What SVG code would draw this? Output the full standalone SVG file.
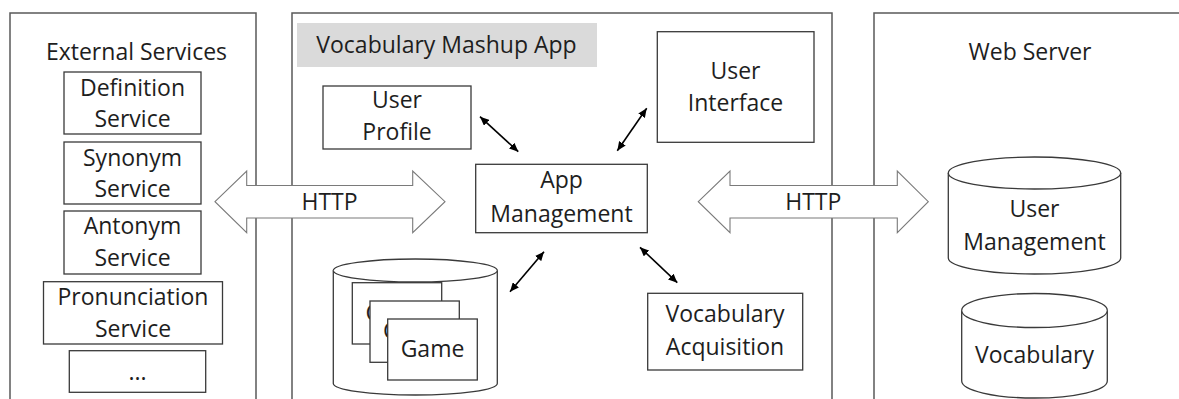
<svg xmlns="http://www.w3.org/2000/svg" width="1179" height="399" viewBox="0 0 1179 399">
<style>
text{font-family:"Open Sans","Liberation Sans",sans-serif;font-size:23px;fill:#1e1e1e;text-anchor:middle}
text.s{text-anchor:start}
.panel{fill:none;stroke:#5a5a5a;stroke-width:1.5}
.box{fill:#fff;stroke:#3a3a3a;stroke-width:1.3}
.http{fill:#fff;stroke:#7a7a7a;stroke-width:1.1}
.link{fill:none;stroke:#000;stroke-width:1.6}
</style>
<defs>
<marker id="ah" viewBox="0 0 9 8" refX="9" refY="4" markerWidth="9" markerHeight="8" markerUnits="userSpaceOnUse" orient="auto-start-reverse">
<path d="M0,0 L9,4 L0,8 z" fill="#000"/>
</marker>
</defs>
<rect width="1179" height="399" fill="#fff"/>

<g id="external-services">
<path class="panel" d="M10,402 V13 H256 V402"/>
<text x="136.5" y="60">External Services</text>
</g>
<g id="vocabulary-mashup-app">
<path class="panel" d="M292,402 V13 H832 V402"/>
<rect x="297" y="23" width="300" height="44" fill="#dadada"/>
<text x="446.5" y="53.3">Vocabulary Mashup App</text>
</g>
<g id="web-server">
<path class="panel" d="M874,402 V13 H1190"/>
<text x="1030" y="60">Web Server</text>
</g>

<g id="connectors">
<polygon class="http" points="215,201.7 246.7,171 246.7,185.5 412.7,185.5 412.7,171 445,201.7 412.7,232.7 412.7,218 246.7,218 246.7,232.7"/>
<text x="329.5" y="210">HTTP</text>
<polygon class="http" points="698.3,201.7 730,171 730,185.5 897.3,185.5 897.3,171 928.3,201.7 897.3,232.7 897.3,218 730,218 730,232.7"/>
<text x="813.3" y="210">HTTP</text>
<path class="link" d="M480,116.7 L518.3,151.7" marker-start="url(#ah)" marker-end="url(#ah)"/>
<path class="link" d="M646.7,108.3 L617.3,150.7" marker-start="url(#ah)" marker-end="url(#ah)"/>
<path class="link" d="M544,251.7 L510,291.7" marker-start="url(#ah)" marker-end="url(#ah)"/>
<path class="link" d="M640,247.3 L677.3,282.7" marker-start="url(#ah)" marker-end="url(#ah)"/>
</g>

<g id="definition-service">
<rect class="box" x="64" y="72" width="137" height="62"/>
<text x="132.5" y="95.5">Definition</text>
<text x="132.5" y="127">Service</text>
</g>
<g id="synonym-service">
<rect class="box" x="64" y="142" width="137" height="62"/>
<text x="132.5" y="165.5">Synonym</text>
<text x="132.5" y="197">Service</text>
</g>
<g id="antonym-service">
<rect class="box" x="64" y="211" width="137" height="63"/>
<text x="132.5" y="234.3">Antonym</text>
<text x="132.5" y="265.7">Service</text>
</g>
<g id="pronunciation-service">
<rect class="box" x="43.5" y="281.7" width="179" height="62.3"/>
<text x="133" y="305">Pronunciation</text>
<text x="133" y="336.7">Service</text>
</g>
<g id="more-services">
<rect class="box" x="69.3" y="350.7" width="136.4" height="41.6"/>
<text x="137.5" y="380">...</text>
</g>

<g id="user-profile">
<rect class="box" x="323" y="86" width="148" height="63"/>
<text x="397" y="108">User</text>
<text x="397" y="140">Profile</text>
</g>
<g id="user-interface">
<rect class="box" x="657.3" y="31.7" width="156.7" height="110.6"/>
<text x="735.5" y="79">User</text>
<text x="735.5" y="111">Interface</text>
</g>
<g id="app-management">
<rect class="box" x="475.7" y="164.3" width="171.6" height="68.4"/>
<text x="561.5" y="188.3">App</text>
<text x="561.5" y="221.7">Management</text>
</g>
<g id="vocabulary-acquisition">
<rect class="box" x="647.7" y="293.3" width="155" height="76.7"/>
<text x="725" y="321.7">Vocabulary</text>
<text x="725" y="355">Acquisition</text>
</g>
<g id="games">
<path class="box" d="M333.3,270.5 A82,11.5 0 0 1 497.3,270.5 V383.5 A82,11.5 0 0 1 333.3,383.5 Z"/>
<path class="box" fill="none" d="M333.3,270.5 A82,11.5 0 0 0 497.3,270.5"/>
<rect class="box" x="352.3" y="282.7" width="89.4" height="61.3"/>
<text class="s" x="365.5" y="320.7">G</text>
<rect class="box" x="370" y="301" width="89.3" height="61.3"/>
<text class="s" x="383.1" y="338.7">G</text>
<rect class="box" x="387.7" y="319" width="89.6" height="61"/>
<text x="432.5" y="356.7">Game</text>
</g>

<g id="user-management">
<path class="box" d="M948.3,173 A86.2,16 0 0 1 1120.7,173 V258 A86.2,16 0 0 1 948.3,258 Z"/>
<path class="box" fill="none" d="M948.3,173 A86.2,16 0 0 0 1120.7,173"/>
<text x="1034.5" y="216.7">User</text>
<text x="1034.5" y="250">Management</text>
</g>
<g id="vocabulary">
<path class="box" d="M961.7,310.5 A72.8,17 0 0 1 1107.3,310.5 V381 A72.8,17 0 0 1 961.7,381 Z"/>
<path class="box" fill="none" d="M961.7,310.5 A72.8,17 0 0 0 1107.3,310.5"/>
<text x="1034.5" y="363.3">Vocabulary</text>
</g>
</svg>
